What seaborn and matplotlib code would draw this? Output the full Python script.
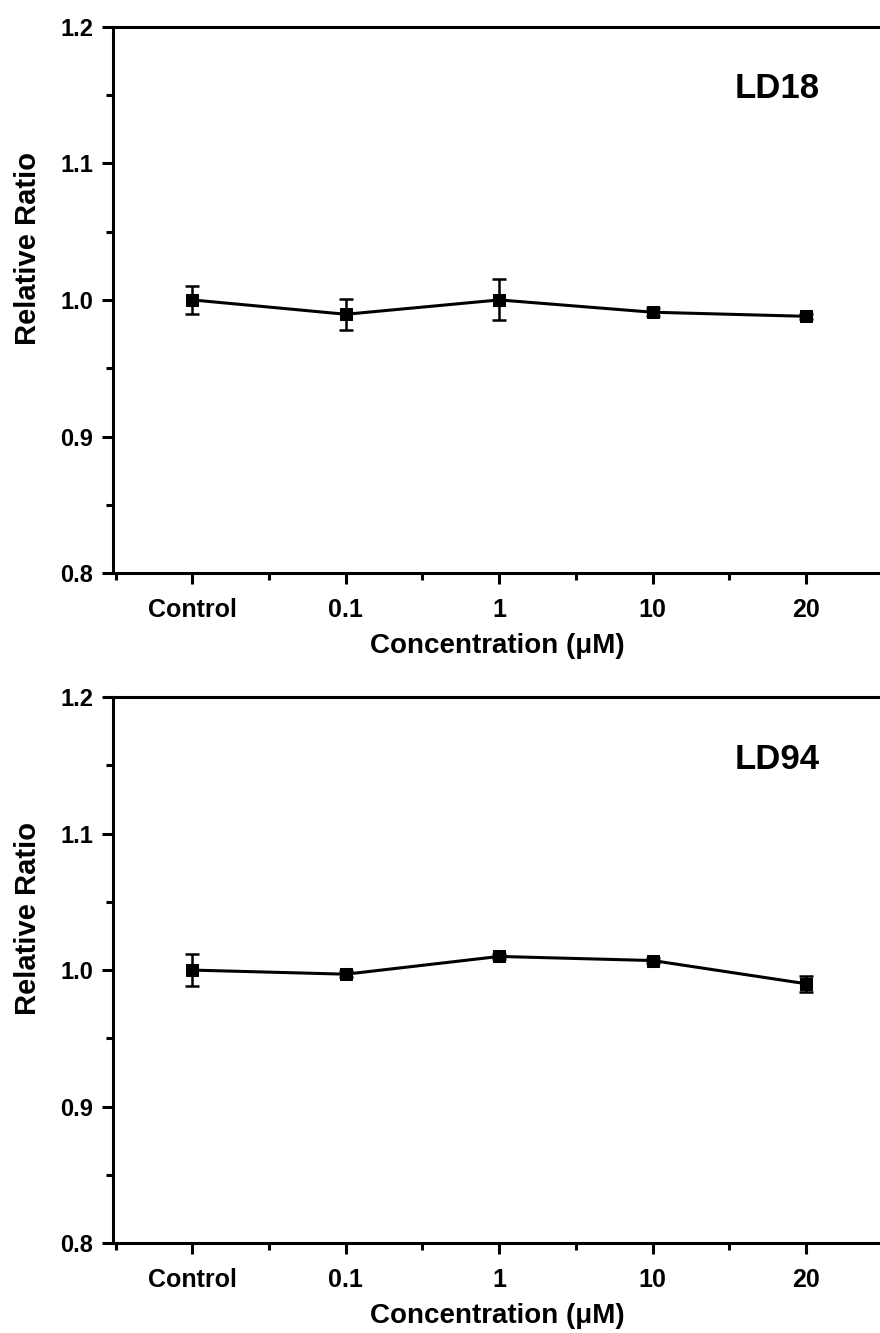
import matplotlib
matplotlib.use("Agg")
import matplotlib.pyplot as plt
from matplotlib.ticker import MultipleLocator, FixedLocator, FormatStrFormatter
import seaborn as sns
import pandas as pd

concentrations = ["Control", "0.1", "1", "10", "20"]

ld18_mean = [1.000, 0.9895, 1.000, 0.991, 0.988]
ld18_err = [0.010, 0.0115, 0.015, 0.003, 0.002]

ld94_mean = [1.000, 0.997, 1.010, 1.007, 0.990]
ld94_err = [0.012, 0.002, 0.002, 0.002, 0.006]

panel_names = ["LD18", "LD94"]

sns.set_theme(style="ticks")
plt.rcParams["font.family"] = ["Liberation Sans", "DejaVu Sans"]
plt.rcParams["font.weight"] = "bold"
plt.rcParams["text.color"] = "black"
plt.rcParams["axes.labelcolor"] = "black"
plt.rcParams["xtick.color"] = "black"
plt.rcParams["ytick.color"] = "black"

fig = plt.figure(figsize=(8.8, 13.33), dpi=100)
ax_top = fig.add_axes([0.128, 0.570, 0.875, 0.410])
ax_bot = fig.add_axes([0.128, 0.0675, 0.875, 0.4095])


def draw_panel(ax, means, errs, name):
    df = pd.DataFrame({"Concentration": concentrations, "Ratio": means})
    sns.lineplot(data=df, x="Concentration", y="Ratio", ax=ax,
                 color="black", linewidth=2.2, marker="s",
                 markersize=9, markeredgecolor="black", sort=False)
    ax.errorbar(concentrations, means, yerr=errs, fmt="none",
                ecolor="black", elinewidth=1.8, capsize=5, capthick=1.8)

    ax.set_xlim(-0.52, 4.5)
    ax.set_ylim(0.8, 1.2)
    ax.yaxis.set_major_locator(MultipleLocator(0.1))
    ax.yaxis.set_minor_locator(MultipleLocator(0.05))
    ax.xaxis.set_minor_locator(FixedLocator([-0.5, 0.5, 1.5, 2.5, 3.5]))
    ax.yaxis.set_major_formatter(FormatStrFormatter("%.1f"))

    for side in ["left", "bottom", "top", "right"]:
        ax.spines[side].set_visible(True)
        ax.spines[side].set_linewidth(2.2)
        ax.spines[side].set_color("black")

    ax.tick_params(axis="both", which="major", direction="out", length=8,
                   width=2.2, color="black", top=False, right=False)
    ax.tick_params(axis="both", which="minor", direction="out", length=5,
                   width=2.2, color="black", top=False, right=False)
    ax.tick_params(axis="y", which="major", labelsize=17, pad=6)
    ax.tick_params(axis="x", which="major", labelsize=18, pad=10)
    for lbl in ax.get_xticklabels() + ax.get_yticklabels():
        lbl.set_fontweight("bold")
        lbl.set_color("black")

    ax.set_xlabel("Concentration (\u03bcM)", fontsize=20, fontweight="bold",
                  labelpad=8, color="black")
    ax.set_ylabel("Relative Ratio", fontsize=21, fontweight="bold",
                  color="black")
    ax.yaxis.set_label_coords(-0.092, 0.595)
    ax.text(3.81, 1.1545, name, fontsize=25, fontweight="bold",
            ha="center", va="center", color="black")


draw_panel(ax_top, ld18_mean, ld18_err, panel_names[0])
draw_panel(ax_bot, ld94_mean, ld94_err, panel_names[1])

fig.savefig("out.png", dpi=100, facecolor="white")
